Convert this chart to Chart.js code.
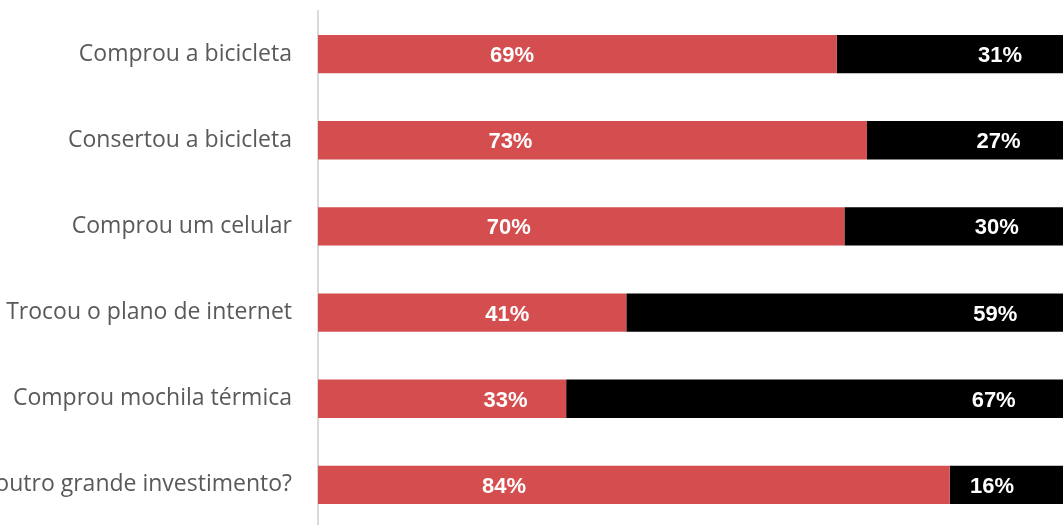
<!DOCTYPE html>
<html>
<head>
<meta charset="utf-8">
<script src="https://cdn.jsdelivr.net/npm/chart.js@4/dist/chart.umd.min.js"></script>
<style>
  html, body { margin: 0; padding: 0; overflow: hidden; background: #fff; }
  #myChart { position: absolute; left: -4px; top: 0; }
</style>
</head>
<body>
<canvas id="myChart" width="1074" height="530"></canvas>
<script>
var categories = [
    'Comprou a bicicleta',
    'Consertou a bicicleta',
    'Comprou um celular',
    'Trocou o plano de internet',
    'Comprou mochila térmica',
    'outro grande investimento?'
];
var simValues = [69, 73, 70, 41, 33, 84];
var naoValues = [31, 27, 30, 59, 67, 16];
var seriesNames = ['Sim', 'Não'];
var seriesColors = ['#D44E50', '#000000'];
// where each series puts its value label, in axis units
var labelSpots = [25.8, 90.7];

var valueLabels = {
    id: 'valueLabels',
    afterDatasetsDraw: function (chart) {
        var ctx = chart.ctx;
        var xScale = chart.scales.x;
        ctx.save();
        ctx.fillStyle = '#ffffff';
        ctx.font = 'bold 22px "Liberation Sans", Arial, sans-serif';
        ctx.textAlign = 'center';
        ctx.textBaseline = 'middle';
        chart.data.datasets.forEach(function (ds, i) {
            var meta = chart.getDatasetMeta(i);
            meta.data.forEach(function (bar, j) {
                var x = xScale.getPixelForValue(labelSpots[i]) - j * 1.6;
                ctx.fillText(ds.data[j] + '%', x, bar.y + 2);
            });
        });
        ctx.restore();
    }
};

function createChart() {
    var ctx = document.getElementById('myChart').getContext('2d');
    new Chart(ctx, {
        type: 'bar',
        data: {
            labels: categories,
            datasets: [
                { label: seriesNames[0], data: simValues, backgroundColor: seriesColors[0] },
                { label: seriesNames[1], data: naoValues, backgroundColor: seriesColors[1] }
            ]
        },
        options: {
            indexAxis: 'y',
            responsive: false,
            animation: false,
            devicePixelRatio: 1,
            layout: { padding: { top: 11, bottom: 2, left: 0, right: 0 } },
            datasets: {
                bar: { categoryPercentage: 1, barPercentage: 0.445 }
            },
            scales: {
                x: {
                    stacked: true,
                    min: 0,
                    max: 100,
                    display: false
                },
                y: {
                    stacked: true,
                    grid: { display: false, drawTicks: false },
                    border: { display: true, color: '#D9D9D9', width: 2 },
                    ticks: {
                        padding: 26,
                        color: '#595959',
                        font: { family: '"Open Sans", sans-serif', size: 23 }
                    },
                    afterFit: function (scale) {
                        scale.width = 322;
                        scale.paddingTop = 0;
                        scale.paddingBottom = 0;
                    }
                }
            },
            plugins: {
                legend: { display: false },
                tooltip: { enabled: false }
            }
        },
        plugins: [valueLabels]
    });
}

createChart();
</script>
</body>
</html>
